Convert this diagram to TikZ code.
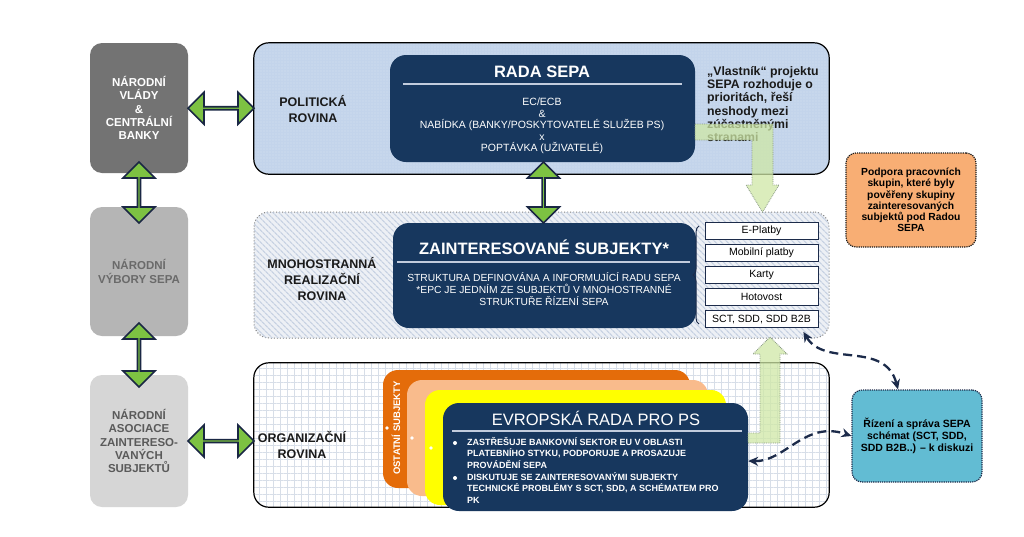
\documentclass[tikz,border=0pt]{standalone}
\usepackage{fontspec}
\setmainfont{Liberation Sans}
\usetikzlibrary{calc,shapes.arrows,patterns.meta,arrows.meta,decorations.pathreplacing}

\definecolor{navybox}{HTML}{17375E}
\definecolor{navyline}{HTML}{1C2B4A}
\definecolor{arrgreen}{HTML}{7DC242}
\definecolor{arrline}{HTML}{1A2744}
\definecolor{lgreen}{HTML}{CFE8A6}
\definecolor{lgborder}{HTML}{8A9A86}
\definecolor{govgray}{HTML}{737373}
\definecolor{nvsgray}{HTML}{B5B5B5}
\definecolor{nasgray}{HTML}{D6D6D6}
\definecolor{nvstext}{HTML}{6A6A6A}
\definecolor{nastext}{HTML}{5A5A5A}
\definecolor{polblue}{HTML}{C3D4EB}
\definecolor{mnofill}{HTML}{EDF0F5}
\definecolor{mnohatch}{HTML}{C6D1E2}
\definecolor{gridcol}{HTML}{D7DEE8}
\definecolor{rulecol}{HTML}{C2CCDD}
\definecolor{textdark}{HTML}{1A1A1A}
\definecolor{orange1}{HTML}{E46C0A}
\definecolor{orange2}{HTML}{F9BB8C}
\definecolor{yellow1}{HTML}{FFFF00}
\definecolor{podfill}{HTML}{F8AE74}
\definecolor{rschfill}{HTML}{62BCD3}

\begin{document}
\begin{tikzpicture}[x=1pt, y=-1pt,
  lbox/.style={rounded corners=12pt, minimum width=98pt, inner sep=0pt, align=center,
    font=\fontsize{11.5}{13.3}\selectfont\bfseries},
  panel/.style={rounded corners=15pt, inner sep=0pt, minimum width=575pt},
  panelborder/.style={rounded corners=15pt, draw=black, line width=1.2pt},
  navy/.style={fill=navybox, rounded corners=16pt, inner sep=0pt},
  ntitle/.style={text=white, inner sep=0pt, font=\fontsize{16.5}{18}\selectfont\bfseries},
  ntext/.style={text=white, inner sep=0pt, align=center, font=\fontsize{10.5}{11.5}\selectfont},
  trule/.style={draw=rulecol, line width=1.8pt},
  plabel/.style={align=center, text=textdark, inner sep=0pt, font=\fontsize{12.5}{16}\selectfont\bfseries},
  dblarr/.style={shape=double arrow, draw=arrline, fill=arrgreen, line width=1.6pt, inner sep=0pt,
    double arrow head extend=8pt, minimum width=32pt},
  subbox/.style={draw=navyline, fill=white, line width=0.8pt, minimum width=113pt, minimum height=17pt,
    inner sep=0pt, font=\fontsize{10.5}{12}\selectfont},
  notebox/.style={rounded corners=10pt, densely dotted, line width=1.2pt, minimum width=130pt, inner sep=0pt,
    align=center, font=\fontsize{10.3}{11.2}\selectfont\bfseries},
  lgarr/.style={fill=lgreen, fill opacity=0.75, draw=lgborder, densely dotted, line width=0.8pt},
  card/.style={rounded corners=15pt},
  dasharr/.style={{Stealth[length=10pt,width=9pt]}-{Stealth[length=10pt,width=9pt]}, draw=navyline,
    line width=2.3pt, dash pattern=on 9pt off 5pt}
]
  \fill[white] (0,0) rectangle (1024,536);
  \useasboundingbox (0,0) rectangle (1024,536);

  % left column
  \node[lbox, fill=govgray, text=white, minimum height=130pt] (gov) at (139,108) {NÁRODNÍ\\VLÁDY\\\&\\CENTRÁLNÍ\\BANKY};
  \node[lbox, fill=nvsgray, text=nvstext, minimum height=129pt] (nvs) at (139,271.5) {NÁRODNÍ\\VÝBORY SEPA};
  \node[lbox, fill=nasgray, text=nastext, minimum height=132pt] (nas) at (139,441) {NÁRODNÍ\\ASOCIACE\\ZAINTERESO-\\VANÝCH\\SUBJEKTŮ};

  % panels
  \node[panel, fill=polblue, minimum height=131pt,
    postaction={pattern={Dots[distance=3pt,radius=0.45pt]}, pattern color=white}] (pol) at (541.5,108.5) {};
  \draw[panelborder] (pol.north west) rectangle (pol.south east);
  \node[panel, draw=gray, dotted, line width=1pt, fill=mnofill, minimum height=126pt,
    postaction={pattern={Lines[angle=-45,distance=4pt,line width=1.3pt]}, pattern color=mnohatch}] (mno) at (541.5,275) {};
  \node[panel, fill=white, minimum height=144pt,
    postaction={pattern={Lines[distance=7pt,line width=0.4pt]}, pattern color=gridcol},
    postaction={pattern={Lines[angle=90,distance=7pt,line width=0.4pt]}, pattern color=gridcol}] (org) at (541.5,435) {};
  \draw[panelborder] (org.north west) rectangle (org.south east);

  \node[plabel] (polt) at (313,109) {POLITICKÁ\\ROVINA};
  \node[plabel] (mnot) at (322,279) {MNOHOSTRANNÁ\\REALIZAČNÍ\\ROVINA};
  \node[plabel] (orgt) at (302,445) {ORGANIZAČNÍ\\ROVINA};

  % double arrows
  \node[dblarr, minimum height=66pt] (a1) at ($(gov.east)!0.5!(pol.west)$) {};
  \node[dblarr, minimum height=61pt, rotate=90] (a2) at (139,192.5) {};
  \node[dblarr, minimum height=64pt, rotate=90] (a3) at (139,355) {};
  \node[dblarr, minimum height=66pt] (a4) at ($(nas.east)!0.5!(nas.east -| org.west)$) {};

  % cards behind the european council
  \fill[card, fill=orange1] (383,370) rectangle (690,488);
  \fill[card, fill=orange2] (407,380) rectangle (708,496);
  \fill[card, fill=yellow1] (425,390) rectangle (726,505);
  \node[rotate=90, text=white, inner sep=0pt, font=\fontsize{9.5}{11}\selectfont\bfseries] (ost) at (396,428) {OSTATNÍ SUBJEKTY};
  \fill[white] (387,428) circle (1.8pt);
  \fill[white] (412,438) circle (1.8pt);
  \fill[white] (431,448) circle (1.8pt);

  % navy boxes
  \node[navy, minimum width=305pt, minimum height=107pt] (rada) at (542.5,108.5) {};
  \node[navy, minimum width=303pt, minimum height=105pt] (zaint) at (544.5,275.5) {};
  \node[navy, minimum width=305pt, minimum height=108pt] (erps) at (595.5,457) {};
  \node[dblarr, minimum height=61pt, rotate=90] (a5) at ($(rada.south)!0.5!(zaint.north)$) {};

  \node[ntitle] (radat) at (542,72) {RADA SEPA};
  \draw[trule] (403,84) -- (682,84);
  \node[ntext] (radax) at (542,126) {EC/ECB\\\&\\NABÍDKA (BANKY/POSKYTOVATELÉ SLUŽEB PS)\\x\\POPTÁVKA (UŽIVATELÉ)};

  \node[ntitle] (zaintt) at (544,247) {ZAINTERESOVANÉ SUBJEKTY*};
  \draw[trule] (397,262) -- (690,262);
  \node[ntext, font=\fontsize{10.3}{12}\selectfont] (zaintx) at (544,289) {STRUKTURA DEFINOVÁNA A INFORMUJÍCÍ RADU SEPA\\*EPC JE JEDNÍM ZE SUBJEKTŮ V MNOHOSTRANNÉ\\STRUKTUŘE ŘÍZENÍ SEPA};

  \node[ntitle, font=\fontsize{16.5}{18}\selectfont] (erpst) at (596,418) {EVROPSKÁ RADA PRO PS};
  \draw[trule] (452,431) -- (742,431);
  \fill[white] (455,443) circle (2pt);
  \fill[white] (455,478) circle (2pt);
  \node[text=white, anchor=north west, align=left, inner sep=0pt, font=\fontsize{9}{11.5}\selectfont\bfseries] (erpsa) at (467,437)
    {ZASTŘEŠUJE BANKOVNÍ SEKTOR EU V OBLASTI\\PLATEBNÍHO STYKU, PODPORUJE A PROSAZUJE\\PROVÁDĚNÍ SEPA};
  \node[text=white, anchor=north west, align=left, inner sep=0pt, font=\fontsize{9}{11.5}\selectfont\bfseries] (erpsb) at (467,472)
    {DISKUTUJE SE ZAINTERESOVANÝMI SUBJEKTY\\TECHNICKÉ PROBLÉMY S SCT, SDD, A SCHÉMATEM PRO\\PK};

  % owner note
  \node[anchor=north west, align=left, inner sep=0pt, text=textdark, font=\fontsize{12.3}{13.3}\selectfont\bfseries] (owner) at (707,66)
    {„Vlastník“ projektu\\SEPA rozhoduje o\\prioritách, řeší\\neshody mezi\\zúčastněnými\\stranami};

  % sub boxes
  \node[subbox] (epl) at (761.5,231) {E-Platby};
  \node[subbox] (mob) at (761.5,253) {Mobilní platby};
  \node[subbox] (kar) at (761.5,275) {Karty};
  \node[subbox] (hot) at (761.5,297) {Hotovost};
  \node[subbox] (sct) at (761.5,319) {SCT, SDD, SDD B2B};
  \draw[decorate, decoration={brace, amplitude=6pt}, navyline, line width=1pt] (699,324) -- (699,226);

  % light green arrows
  \draw[lgarr] (695,124) -- (773,124) -- (773,185) -- (779,185) -- (762.5,212) -- (746,185) -- (752,185)
    -- (752,140) -- (695,140) -- cycle;
  \draw[lgarr] (748,443) -- (780,443) -- (780,354) -- (787,354) -- (770,337) -- (753,354) -- (760,354)
    -- (760,433) -- (748,433) -- cycle;

  % notes on the right
  \node[notebox, draw=textdark, fill=podfill, minimum height=94pt] (pod) at (911,200)
    {Podpora pracovních\\skupin, které byly\\pověřeny skupiny\\zainteresovaných\\subjektů pod Radou\\SEPA};
  \node[notebox, draw=navyline, fill=rschfill, minimum height=92pt, font=\fontsize{10.5}{11.7}\selectfont\bfseries] (rsch) at (917,436)
    {Řízení a správa SEPA\\schémat (SCT, SDD,\\SDD B2B..) – k diskuzi};

  % dashed connectors
  \coordinate (sctend) at ([xshift=-15pt,yshift=-4pt]sct.south east);
  \draw[dasharr] (sctend) .. controls (825,368) and (885,340) .. ([xshift=-19pt]rsch.north);
  \draw[dasharr] ([yshift=-4pt]erps.east) .. controls (785,462) and (805,420) .. (rsch.west);
\end{tikzpicture}
\end{document}
